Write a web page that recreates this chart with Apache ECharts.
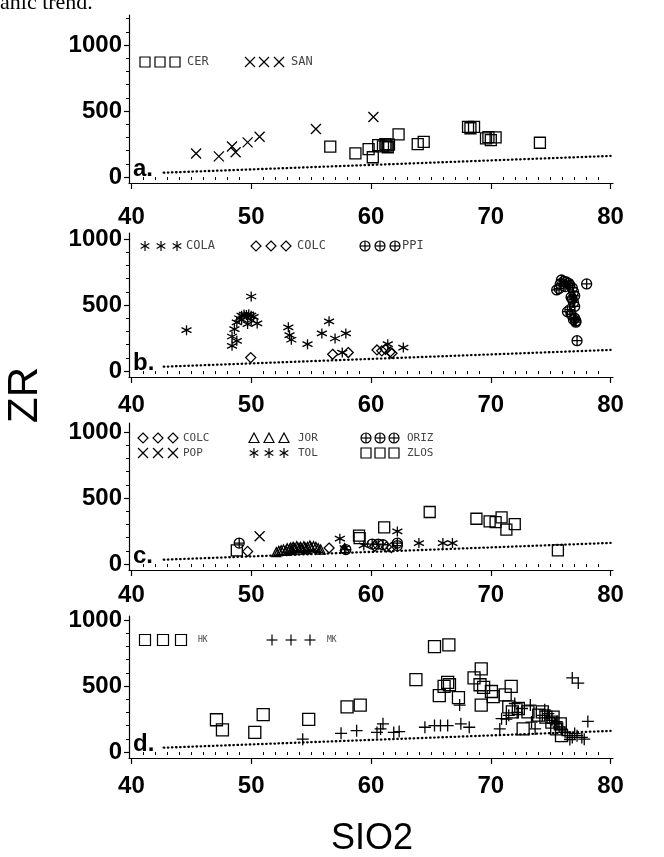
<!DOCTYPE html>
<html><head><meta charset="utf-8">
<script src="https://cdn.jsdelivr.net/npm/echarts@6/dist/echarts.min.js"></script>
<style>html,body{margin:0;padding:0;background:#fff}#c{width:664px;height:857px}</style>
</head><body><div id="c"></div>
<script>
// ---- tick labels ----
const xTickLabels = [40, 50, 60, 70, 80];
const yTickLabels = [0, 500, 1000];
// ---- reference dotted line (same in each panel) ----
const refLineX = [42.7, 80];
const refLineY = [33, 160];

// ---- panel a ----
const a_CER = [[56.6,230],[58.7,179],[59.8,212],[60.15,150],[60.6,242],[61.0,232],[61.2,250],[61.3,238],[61.4,226],[61.5,246],[62.3,323],[63.9,250],[64.4,267],[68.1,381],[68.3,370],[68.6,381],[69.6,293],[69.8,303],[70.0,280],[70.4,300],[74.1,260]];
const a_SAN = [[45.4,179],[47.3,157],[48.4,232],[48.7,188],[49.7,263],[50.7,305],[55.4,364],[60.2,455]];

// ---- panel b ----
const b_COLA = [[44.6,310],[48.4,191],[48.4,262],[48.6,318],[48.8,229],[48.8,369],[49.0,400],[49.2,420],[49.4,428],[49.6,425],[49.8,430],[50.0,420],[50.2,410],[49.7,356],[49.2,390],[50.0,385],[50.5,361],[50.0,565],[53.1,331],[53.2,272],[53.35,237],[54.7,204],[55.9,285],[56.5,377],[57.0,247],[57.9,285],[57.6,140],[61.4,204],[62.7,178]];
const b_COLC = [[49.96,102],[56.8,127],[58.1,140],[60.5,160],[60.9,153],[61.2,165],[61.6,145],[61.75,135]];
const b_PPI = [[75.5,615],[75.7,625],[75.8,660],[75.9,690],[76.1,680],[76.2,640],[76.3,675],[76.5,665],[76.6,650],[76.8,630],[76.9,600],[77.0,570],[76.7,560],[76.8,545],[76.9,520],[77.0,490],[76.6,465],[76.4,450],[76.7,430],[77.0,400],[76.9,390],[77.1,380],[77.1,370],[77.2,230],[78.0,660]];

// ---- panel c ----
const c_COLC = [[49.7,96],[56.5,121],[60.3,135],[61.3,130],[61.7,125]];
const c_JOR = [[52.1,90],[52.3,100],[52.5,105],[52.7,110],[52.9,100],[53.0,120],[53.2,115],[53.3,125],[53.4,105],[53.5,130],[53.6,120],[53.8,135],[53.9,125],[54.0,110],[54.1,130],[54.2,120],[54.4,135],[54.5,125],[54.6,112],[54.7,130],[54.9,140],[55.0,125],[55.2,135],[55.4,130],[55.6,120],[55.8,110],[57.8,120]];
const c_ORIZ = [[49.0,159],[57.9,110],[60.1,151],[60.6,151],[61.0,146],[62.2,159],[62.2,140]];
const c_POP = [[50.7,210]];
const c_TOL = [[57.4,192],[57.8,121],[59.4,141],[62.2,247],[64.0,159],[66.0,159],[66.8,159]];
const c_ZLOS = [[48.8,104],[59.0,215],[59.05,197],[61.1,278],[64.9,394],[68.8,343],[69.9,323],[70.4,318],[70.9,354],[71.3,260],[72.0,303],[75.6,104]];

// ---- panel d ----
const d_HK = [[47.1,245],[47.6,168],[50.3,149],[51.0,283],[54.8,247],[58.0,343],[59.1,356],[63.75,549],[65.3,799],[66.5,812],[65.7,428],[66.1,497],[66.4,528],[66.55,510],[67.3,412],[68.6,562],[69.2,631],[69.1,510],[69.2,356],[69.4,490],[70.05,459],[70.2,420],[71.7,497],[71.2,433],[71.5,343],[71.8,304],[72.7,175],[72.3,330],[73.1,304],[74.0,280],[74.3,304],[74.6,265],[75.1,227],[75.2,265],[75.5,175],[75.8,214],[75.9,124]];
const d_MK = [[54.3,98],[57.5,142],[58.8,162],[60.5,149],[60.8,175],[61.0,214],[61.9,149],[62.35,155],[64.5,188],[65.3,201],[65.8,201],[66.4,201],[67.5,214],[68.2,188],[67.4,356],[70.75,175],[70.9,253],[71.3,250],[71.5,278],[72.0,368],[72.2,300],[72.6,330],[73.3,356],[73.4,227],[73.7,175],[74.3,278],[74.5,320],[74.8,291],[74.9,260],[75.1,240],[75.4,214],[75.5,230],[75.7,190],[75.9,175],[76.2,150],[76.4,124],[76.6,95],[76.8,111],[77.0,140],[77.2,124],[77.6,111],[77.8,98],[76.8,562],[77.3,523],[78.1,232]];

// ---- marker shapes (10x10 box) ----
const PATHS = {
  square: 'M0,0L10,0L10,10L0,10Z',
  cross: 'M0,0L10,10M10,0L0,10',
  asterisk: 'M5,0L5,10M0.67,2.5L9.33,7.5M0.67,7.5L9.33,2.5',
  diamond: 'M5,0L10,5L5,10L0,5Z',
  triangle: 'M5,0L10,9.5L0,9.5Z',
  circleplus: 'M0,5A5,5 0 1,1 10,5A5,5 0 1,1 0,5ZM5,0L5,10M0,5L10,5',
  plus: 'M5,0L5,10M0,5L10,5'
};

const panels = [
  {letter:'a.', top:15, axis:183, ymax:1228, lm:22, yMinorMax:1200,
   series:[{d:a_CER,s:'square',z:11},{d:a_SAN,s:'cross',z:10}],
   legend:[{s:'square',xs:[145,160,175],y:62,z:10,t:'CER',tx:187,fs:12},{s:'cross',xs:[250,264,279],y:62,z:10,t:'SAN',tx:291,fs:12}]},
  {letter:'b.', top:233, axis:377, ymax:1046, lm:16, yMinorMax:1000,
   series:[{d:b_COLA,s:'asterisk',z:10},{d:b_COLC,s:'diamond',z:10},{d:b_PPI,s:'circleplus',z:10}],
   legend:[{s:'asterisk',xs:[145,161,177],y:246,z:10,t:'COLA',tx:186,fs:12},{s:'diamond',xs:[256,271,286],y:246,z:10,t:'COLC',tx:297,fs:12},{s:'circleplus',xs:[365,380,395],y:246,z:10,t:'PPI',tx:402,fs:12}]},
  {letter:'c.', top:423, axis:570, ymax:1068, lm:13, yMinorMax:1000,
   series:[{d:c_JOR,s:'triangle',z:9},{d:c_COLC,s:'diamond',z:10},{d:c_ORIZ,s:'circleplus',z:10},{d:c_POP,s:'cross',z:10},{d:c_TOL,s:'asterisk',z:10},{d:c_ZLOS,s:'square',z:11}],
   legend:[{s:'diamond',xs:[143,158,173],y:438,z:10,t:'COLC',tx:183,fs:11},{s:'triangle',xs:[254,269,284],y:438,z:10,t:'JOR',tx:298,fs:11},{s:'circleplus',xs:[366,380,394],y:438,z:10,t:'ORIZ',tx:407,fs:11},
           {s:'cross',xs:[143,158,173],y:453,z:10,t:'POP',tx:183,fs:11},{s:'asterisk',xs:[254,269,284],y:453,z:10,t:'TOL',tx:298,fs:11},{s:'square',xs:[366,380,394],y:453,z:10,t:'ZLOS',tx:407,fs:11}]},
  {letter:'d.', top:616, axis:758, ymax:1031, lm:16, yMinorMax:1000,
   series:[{d:d_HK,s:'square',z:12},{d:d_MK,s:'plus',z:12}],
   legend:[{s:'square',xs:[145,163,181],y:640,z:11,t:'HK',tx:198,fs:8},{s:'plus',xs:[272,291,310],y:640,z:11,t:'MK',tx:327,fs:8}]}
];

const YMIN = -45, XMIN = 39.8, XMAX = 80.2;
const xMinor = []; for (let v = 40; v <= 80; v++) if (v % 10) xMinor.push(v);

const grid = [], xAxis = [], yAxis = [], series = [], graphic = [];
const FONT = 'Liberation Sans, Arial, Helvetica, sans-serif';
const LS = {fill:'none', stroke:'#000', lineWidth:1.2};
const plain = v => String(v);

function marker(kind, cx, cy, s) {
  const h = s / 2, out = [];
  const ln = (x1, y1, x2, y2) => out.push({type:'line', shape:{x1:cx + x1, y1:cy + y1, x2:cx + x2, y2:cy + y2}, style:LS});
  if (kind === 'square') out.push({type:'rect', shape:{x:cx - h, y:cy - h, width:s, height:s}, style:LS});
  else if (kind === 'diamond') out.push({type:'polygon', shape:{points:[[cx, cy - h], [cx + h, cy], [cx, cy + h], [cx - h, cy]]}, style:LS});
  else if (kind === 'triangle') out.push({type:'polygon', shape:{points:[[cx, cy - h], [cx + h, cy + h * 0.9], [cx - h, cy + h * 0.9]]}, style:LS});
  else if (kind === 'cross') { ln(-h, -h, h, h); ln(h, -h, -h, h); }
  else if (kind === 'plus') { ln(0, -h, 0, h); ln(-h, 0, h, 0); }
  else if (kind === 'asterisk') { ln(0, -h, 0, h); ln(-h * 0.866, -h / 2, h * 0.866, h / 2); ln(-h * 0.866, h / 2, h * 0.866, -h / 2); }
  else if (kind === 'circleplus') { out.push({type:'circle', shape:{cx, cy, r:h}, style:LS}); ln(0, -h, 0, h); ln(-h, 0, h, 0); }
  return out;
}

panels.forEach((p, i) => {
  grid.push({left:129, width:484, top:p.top, height:p.axis - p.top, outerBoundsMode:'none'});
  const yMinor = []; for (let v = 100; v <= p.yMinorMax; v += 100) if (v % 500) yMinor.push(v);
  xAxis.push({type:'value', gridIndex:i, min:XMIN, max:XMAX, position:'bottom',
    axisLine:{show:true, onZero:false, lineStyle:{color:'#000', width:1.2}},
    axisTick:{show:true, length:6, customValues:xTickLabels, lineStyle:{color:'#000', width:1.2}},
    axisLabel:{customValues:xTickLabels, formatter:plain, fontSize:24, fontWeight:'bold', color:'#000', fontFamily:FONT, margin:p.lm},
    splitLine:{show:false}});
  xAxis.push({type:'value', gridIndex:i, min:XMIN, max:XMAX, position:'bottom',
    axisLine:{show:false}, axisTick:{show:true, length:3, customValues:xMinor, lineStyle:{color:'#000', width:1}},
    axisLabel:{show:false}, splitLine:{show:false}});
  yAxis.push({type:'value', gridIndex:i, min:YMIN, max:p.ymax, position:'left',
    axisLine:{show:true, onZero:false, lineStyle:{color:'#000', width:1.2}},
    axisTick:{show:true, length:5, customValues:yTickLabels, lineStyle:{color:'#000', width:1.2}},
    axisLabel:{customValues:yTickLabels, formatter:plain, fontSize:24, fontWeight:'bold', color:'#000', fontFamily:FONT, margin:7},
    splitLine:{show:false}});
  yAxis.push({type:'value', gridIndex:i, min:YMIN, max:p.ymax, position:'left',
    axisLine:{show:false}, axisTick:{show:true, length:3, customValues:yMinor, lineStyle:{color:'#000', width:1}},
    axisLabel:{show:false}, splitLine:{show:false}});

  series.push({type:'line', xAxisIndex:2*i, yAxisIndex:2*i, silent:true, symbol:'none',
    data: refLineX.map((x, j) => [x, refLineY[j]]),
    lineStyle:{color:'#000', width:2.3, type:[0.5, 3.6], cap:'round'}});
  p.series.forEach(s => {
    series.push({type:'scatter', xAxisIndex:2*i, yAxisIndex:2*i, silent:true,
      data:s.d, symbol:'path://' + PATHS[s.s], symbolSize:s.z,
      itemStyle:{color:'transparent', borderColor:'#000', borderWidth:1.3, opacity:1}});
  });

  const zeroY = p.axis - (0 - YMIN) * (p.axis - p.top) / (p.ymax - YMIN);
  graphic.push({type:'text', x:133, y:zeroY - 8, style:{text:p.letter, font:'bold 24px ' + FONT, fill:'#000', verticalAlign:'middle'}});

  p.legend.forEach(L => {
    L.xs.forEach(cx => marker(L.s, cx, L.y, L.z).forEach(e => graphic.push(e)));
    graphic.push({type:'text', x:L.tx, y:L.y, style:{text:L.t, font:L.fs + 'px DejaVu Sans Mono', fill:'#444', verticalAlign:'middle'}});
  });
});

graphic.push({type:'text', x:25, y:395, rotation:Math.PI/2, style:{text:'ZR', font:'42px ' + FONT, fill:'#000', align:'center', verticalAlign:'middle'}});
graphic.push({type:'text', x:372, y:839, style:{text:'SIO2', font:'36px ' + FONT, fill:'#000', align:'center', verticalAlign:'middle'}});
graphic.push({type:'text', x:0, y:14, style:{text:'anic trend.', font:'22px Liberation Serif, serif', fill:'#000', verticalAlign:'bottom'}});

const chart = echarts.init(document.getElementById('c'), null, {renderer:'canvas'});
chart.setOption({animation:false, backgroundColor:'#fff', grid, xAxis, yAxis, series, graphic});
</script>
</body></html>
